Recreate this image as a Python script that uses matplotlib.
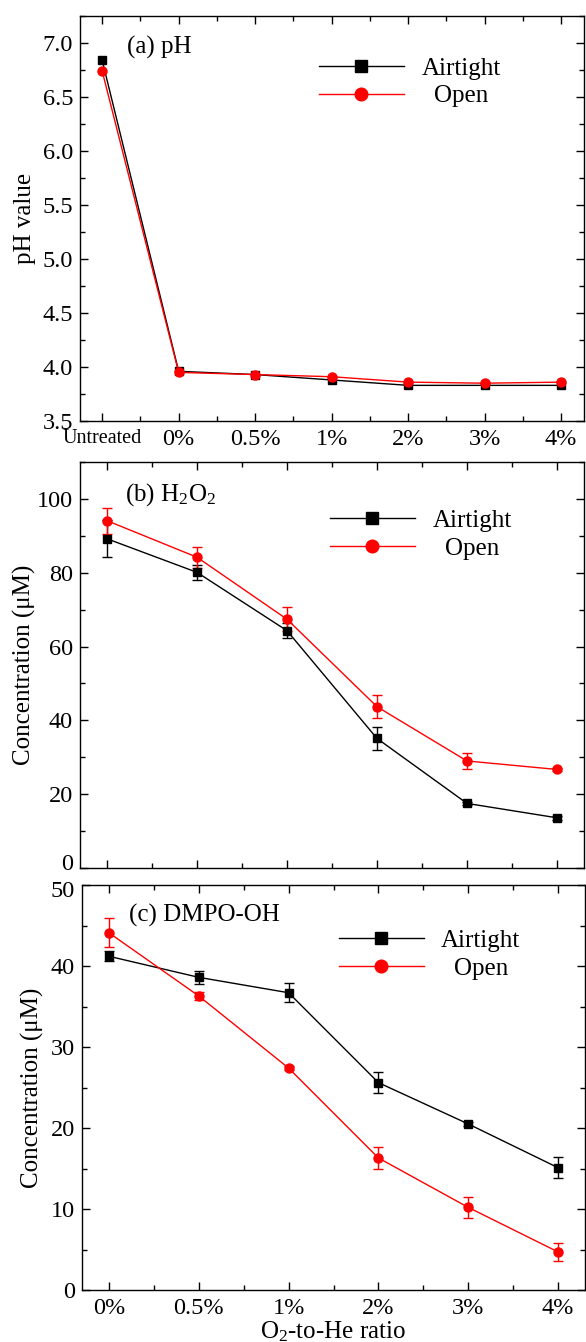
import matplotlib
matplotlib.use("Agg")
import matplotlib.pyplot as plt
from matplotlib.ticker import MultipleLocator, FormatStrFormatter
from matplotlib.lines import Line2D
import matplotlib.transforms as mtransforms
import numpy as np

plt.rcParams['font.family'] = ['Liberation Serif', 'DejaVu Serif']
plt.rcParams['mathtext.default'] = 'regular'

# ---- data ----
ph_labels = ["Untreated", "0%", "0.5%", "1%", "2%", "3%", "4%"]
ph_airtight = [6.84, 3.96, 3.93, 3.88, 3.83, 3.83, 3.83]
ph_open = [6.74, 3.95, 3.93, 3.91, 3.86, 3.85, 3.86]

ratio_labels = ["0%", "0.5%", "1%", "2%", "3%", "4%"]
h2o2_airtight = [89.2, 80.1, 64.3, 35.1, 17.5, 13.6]
h2o2_airtight_err = [5.0, 2.0, 2.0, 3.0, 0.5, 0.5]
h2o2_open = [94.1, 84.2, 67.4, 43.7, 29.0, 26.7]
h2o2_open_err = [3.5, 2.8, 3.2, 3.1, 2.2, 0.5]

dmpo_airtight = [41.2, 38.6, 36.7, 25.6, 20.5, 15.1]
dmpo_airtight_err = [0.6, 0.8, 1.2, 1.3, 0.3, 1.3]
dmpo_open = [44.1, 36.3, 27.4, 16.3, 10.2, 4.7]
dmpo_open_err = [1.8, 0.5, 0.3, 1.3, 1.3, 1.1]

series_names = ["Airtight", "Open"]

W, H = 586, 1342
fig = plt.figure(figsize=(W / 100, H / 100), dpi=100)

def ax_at(left, top, right, bottom):
    return fig.add_axes([left / W, 1 - bottom / H, (right - left) / W, (bottom - top) / H])

ax_a = ax_at(80, 16, 584, 421)
ax_b = ax_at(80, 462, 584, 868)
ax_c = ax_at(82, 885, 585, 1290)

TICK_FS = 17.5
LAB_FS = 18

def style(ax):
    for s in ax.spines.values():
        s.set_linewidth(1.0)
    ax.tick_params(which='both', direction='in', top=True, right=True,
                   labelsize=TICK_FS, width=1.0)
    ax.tick_params(which='major', length=6)
    ax.tick_params(which='minor', length=3.5)
    ax.tick_params(axis='x', which='major', pad=6)
    ax.tick_params(axis='y', which='major', pad=5)

blk = dict(color='black', marker='s', markersize=6, linewidth=1.0)
red = dict(color='red', marker='o', markersize=6.5, linewidth=1.0)

def add_legend(ax, x, y):
    handles = [Line2D([], [], **blk), Line2D([], [], **red)]
    leg = ax.legend(handles, series_names, loc='upper left', bbox_to_anchor=(x, y),
                    frameon=False, fontsize=LAB_FS, handlelength=3.4, handletextpad=0.7,
                    labelspacing=0.2, markerscale=1.4, borderpad=0, borderaxespad=0)
    return leg

# ---- (a) pH ----
xa = np.arange(len(ph_labels))
ax_a.plot(xa, ph_airtight, **blk)
ax_a.plot(xa, ph_open, **red)
ax_a.set_xlim(-0.29, 6.3)
ax_a.set_ylim(3.5, 7.25)
ax_a.set_xticks(xa)
ax_a.set_xticklabels(ph_labels)
ax_a.xaxis.set_minor_locator(MultipleLocator(0.5))
ax_a.yaxis.set_major_locator(MultipleLocator(0.5))
ax_a.yaxis.set_minor_locator(MultipleLocator(0.25))
ax_a.yaxis.set_major_formatter(FormatStrFormatter('%.1f'))
style(ax_a)
ax_a.get_xticklabels()[0].set_fontsize(14.5)
ax_a.set_ylabel('pH value', fontsize=LAB_FS, labelpad=4.5)
ax_a.text(0.093, 0.923, '(a) pH', transform=ax_a.transAxes, fontsize=LAB_FS,
          ha='left', va='center')
leg_a = add_legend(ax_a, 0.474, 0.898)

# ---- (b) H2O2 ----
xr = np.arange(len(ratio_labels))
ax_b.errorbar(xr, h2o2_airtight, yerr=h2o2_airtight_err, capsize=3.5, elinewidth=1.0,
              capthick=1.0, **blk)
ax_b.errorbar(xr, h2o2_open, yerr=h2o2_open_err, capsize=3.5, elinewidth=1.0,
              capthick=1.0, **red)
ax_b.set_xlim(-0.3, 5.3)
ax_b.set_ylim(0, 110)
ax_b.set_xticks(xr)
ax_b.set_xticklabels([])
ax_b.xaxis.set_minor_locator(MultipleLocator(0.5))
ax_b.yaxis.set_major_locator(MultipleLocator(20))
ax_b.yaxis.set_minor_locator(MultipleLocator(10))
style(ax_b)
ax_b.set_ylabel('Concentration (μM)', fontsize=LAB_FS, labelpad=0.5)
ax_b.text(0.089, 0.919, '(b) H$_2$O$_2$', transform=ax_b.transAxes, fontsize=LAB_FS,
          ha='left', va='center')
leg_b = add_legend(ax_b, 0.496, 0.883)

# ---- (c) DMPO-OH ----
ax_c.errorbar(xr, dmpo_airtight, yerr=dmpo_airtight_err, capsize=3.5, elinewidth=1.0,
              capthick=1.0, **blk)
ax_c.errorbar(xr, dmpo_open, yerr=dmpo_open_err, capsize=3.5, elinewidth=1.0,
              capthick=1.0, **red)
ax_c.set_xlim(-0.3, 5.3)
ax_c.set_ylim(0, 50)
ax_c.set_xticks(xr)
ax_c.set_xticklabels(ratio_labels)
ax_c.xaxis.set_minor_locator(MultipleLocator(0.5))
ax_c.yaxis.set_major_locator(MultipleLocator(10))
ax_c.yaxis.set_minor_locator(MultipleLocator(5))
style(ax_c)
ax_c.set_ylabel('Concentration (μM)', fontsize=LAB_FS, labelpad=5)
ax_c.set_xlabel('O$_2$-to-He ratio', fontsize=LAB_FS, labelpad=0)
ax_c.text(0.093, 0.926, '(c) DMPO-OH', transform=ax_c.transAxes, fontsize=LAB_FS,
          ha='left', va='center')
leg_c = add_legend(ax_c, 0.510, 0.890)

# center the legend labels relative to each other, nudge touching tick labels
fig.canvas.draw()
r = fig.canvas.get_renderer()
for leg in (leg_a, leg_b, leg_c):
    t0, t1 = leg.get_texts()
    w0 = t0.get_window_extent(r).width
    w1 = t1.get_window_extent(r).width
    t1.set_x((w0 - w1) / 2)

up = mtransforms.ScaledTranslation(0, 4 / 72, fig.dpi_scale_trans)
down = mtransforms.ScaledTranslation(0, -3 / 72, fig.dpi_scale_trans)
for lbl in ax_b.get_yticklabels():
    if lbl.get_text() == '0':
        lbl.set_transform(lbl.get_transform() + up)
for lbl in ax_c.get_yticklabels():
    if lbl.get_text() == '50':
        lbl.set_transform(lbl.get_transform() + down)

fig.savefig('out.png', dpi=100)
